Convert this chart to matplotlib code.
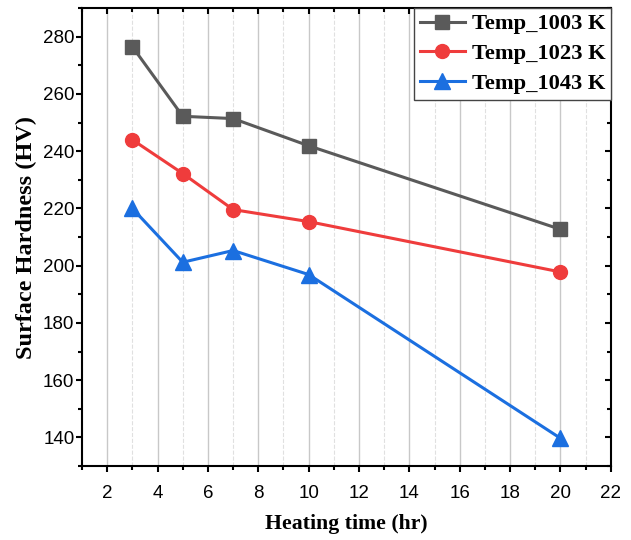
import numpy as np
import matplotlib.pyplot as plt
from matplotlib.ticker import MultipleLocator

# Heating time (hr) and surface hardness (HV)
hours = [3, 5, 7, 10, 20]
hv_1003 = [276.5, 252.2, 251.4, 241.9, 212.7]
hv_1023 = [244.0, 232.2, 219.6, 215.4, 197.8]
hv_1043 = [220.0, 201.2, 205.3, 196.9, 139.7]
labels = ['Temp_1003 K', 'Temp_1023 K', 'Temp_1043 K']

fig = plt.figure(figsize=(6.31, 5.4), dpi=100)
ax = fig.add_axes([0.130, 0.137, 0.838, 0.848])

ax.plot(hours, hv_1003, '-s', color='#5a5a5a', lw=2.2, ms=10, label=labels[0])
ax.plot(hours, hv_1023, '-o', color='#ef3c3c', lw=2.2, ms=10, label=labels[1])
ax.plot(hours, hv_1043, '-^', color='#1b6fe0', lw=2.2, ms=11, label=labels[2])

ax.set_xlim(1, 22)
ax.set_ylim(130, 290)
ax.xaxis.set_major_locator(MultipleLocator(2))
ax.xaxis.set_minor_locator(MultipleLocator(1))
ax.yaxis.set_major_locator(MultipleLocator(20))
ax.yaxis.set_minor_locator(MultipleLocator(10))

ax.grid(True, which='major', axis='x', color='#c8c8c8', lw=1)
ax.grid(True, which='minor', axis='x', color='#e0e0e0', lw=0.8, ls='--')
ax.set_axisbelow(True)

for s in ax.spines.values():
    s.set_linewidth(1.5)
ax.tick_params(which='both', width=1.5, labelsize=13.5,
               labelfontfamily='Liberation Sans', top=True, right=True)
ax.tick_params(which='major', length=4.5)
ax.tick_params(which='minor', length=3)
ax.tick_params(axis='x', which='both', pad=9)
ax.tick_params(axis='y', which='both', pad=1)
# mirrored ticks point inward on top/right
for t in ax.xaxis.get_major_ticks() + ax.xaxis.get_minor_ticks():
    t.tick2line.set_marker(3)
for t in ax.yaxis.get_major_ticks() + ax.yaxis.get_minor_ticks():
    t.tick2line.set_marker(0)

ax.set_xlabel('Heating time (hr)', family='Liberation Serif', weight='bold',
              size=15.7, labelpad=9)
ax.set_ylabel('Surface Hardness (HV)', family='Liberation Serif', weight='bold',
              size=17.5, labelpad=4)

leg = ax.legend(loc='upper right', bbox_to_anchor=(1.0, 1.0), borderaxespad=0,
                prop={'family': 'Liberation Serif', 'weight': 'bold', 'size': 16.2},
                fancybox=False, edgecolor='#444444', framealpha=1,
                handlelength=2.0, labelspacing=0.4, borderpad=0.25,
                handletextpad=0.3)
leg.get_frame().set_linewidth(1)

plt.savefig('out.png', dpi=100)
